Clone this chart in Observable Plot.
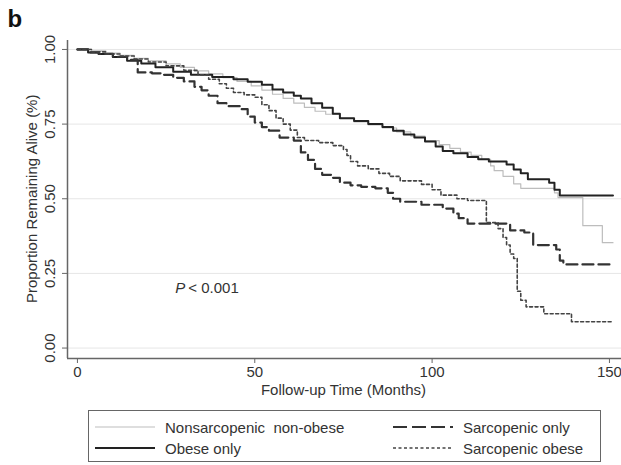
<!DOCTYPE html>
<html>
<head>
<meta charset="utf-8">
<script src="https://cdn.jsdelivr.net/npm/d3@7"></script>
<script src="https://cdn.jsdelivr.net/npm/@observablehq/plot@0.6"></script>
<style>
  html, body { margin: 0; padding: 0; background: #fff; }
  #wrap { position: relative; width: 621px; height: 465px; font-family: "Liberation Sans", Arial, Helvetica, sans-serif; color: #333; }
  #legend { position: absolute; left: 88px; top: 410px; width: 513px; height: 52px; border: 1px solid #666; box-sizing: border-box; font-size: 15px; }
  .item { position: absolute; display: flex; align-items: center; height: 20px; }
  .item svg { margin-right: 10px; }
</style>
</head>
<body>
<div id="wrap"></div>
<script>
// Tick values
const xTicks = [0, 50, 100, 150];
const yTicks = [0, 0.25, 0.5, 0.75, 1.0];

// Series: [month, proportion alive]
const nonsarcNonobese = [[0,1.0],[4,0.995],[8,0.988],[12,0.98],[16,0.97],[20,0.962],[25,0.952],[29,0.94],[33,0.928],[37,0.918],[41,0.906],[45,0.893],[49,0.878],[52,0.864],[55,0.85],[58,0.836],[61,0.82],[64,0.806],[67,0.793],[70,0.783],[74,0.769],[78,0.757],[82,0.747],[86,0.737],[90,0.724],[94,0.71],[98,0.695],[102,0.681],[105,0.669],[108,0.656],[111,0.645],[114,0.632],[116.5,0.61],[117.5,0.594],[120,0.575],[123,0.55],[125,0.535],[134.5,0.52],[135.5,0.504],[142.5,0.41],[148,0.353],[151,0.353]];
const obeseOnly = [[0,1.0],[3,0.99],[6,0.985],[10,0.975],[14,0.962],[18,0.953],[22,0.94],[27,0.925],[32,0.915],[38,0.908],[44,0.9],[48,0.892],[52,0.882],[55,0.866],[58,0.856],[61,0.845],[63,0.836],[66,0.82],[69,0.805],[72,0.785],[74,0.77],[78,0.76],[82,0.75],[86,0.74],[89,0.728],[92,0.715],[95,0.705],[98,0.692],[101,0.675],[103,0.66],[106,0.652],[110,0.64],[113,0.632],[116,0.625],[121,0.615],[123,0.598],[125,0.585],[127,0.565],[133,0.554],[134.5,0.53],[136,0.511],[151,0.511]];
const sarcopenicOnly = [[0,1.0],[3,0.99],[6,0.985],[10,0.975],[14,0.965],[17,0.923],[21,0.92],[24,0.915],[27,0.905],[30,0.893],[33,0.875],[35,0.863],[37,0.845],[39.5,0.82],[42,0.81],[46,0.8],[48,0.775],[50,0.755],[52,0.74],[54,0.728],[57,0.705],[61,0.695],[63,0.655],[65,0.63],[67,0.6],[69,0.58],[72,0.57],[74,0.554],[77,0.545],[80,0.54],[84,0.535],[87.5,0.52],[89,0.5],[91,0.49],[97,0.48],[103,0.467],[106,0.45],[107.5,0.435],[110,0.417],[119.5,0.417],[122,0.394],[126,0.387],[128.5,0.345],[135,0.33],[136,0.293],[137,0.28],[151,0.28]];
const sarcopenicObese = [[0,1.0],[4,0.992],[8,0.985],[12,0.978],[16,0.968],[20,0.958],[25,0.945],[30,0.93],[34,0.915],[37,0.9],[40,0.885],[42,0.87],[44,0.856],[47,0.848],[50,0.84],[52,0.815],[54,0.795],[56,0.77],[58,0.75],[60,0.73],[62,0.705],[64,0.695],[68,0.688],[72,0.678],[75,0.665],[76,0.645],[77,0.625],[79,0.61],[82,0.6],[85,0.585],[88,0.575],[91,0.56],[97,0.548],[100,0.53],[102.5,0.512],[107,0.5],[110,0.494],[115.3,0.42],[118.6,0.4],[120,0.37],[121,0.345],[122,0.315],[123,0.3],[124,0.19],[125,0.16],[126.5,0.138],[131.5,0.115],[139.3,0.088],[151,0.088]];

const seriesNames = ["Nonsarcopenic  non-obese", "Obese only", "Sarcopenic only", "Sarcopenic obese"];
const seriesData = [nonsarcNonobese, obeseOnly, sarcopenicOnly, sarcopenicObese];
const seriesStyle = [
  {stroke: "#bdbdbd", strokeWidth: 1.2, dash: null},
  {stroke: "#222", strokeWidth: 2, dash: null},
  {stroke: "#333", strokeWidth: 2.2, dash: "11,5"},
  {stroke: "#444", strokeWidth: 1.6, dash: "3,2.5"}
];
const xLabel = "Follow-up Time (Months)";
const yLabel = "Proportion Remaining Alive (%)";
const panelLabel = "b";
const pValue = {x: 27.6, y: 0.2, p: "P", rest: "< 0.001"};

const xDomain = [-2.8, 153.4];
const yDomain = [-0.035, 1.03];

const lineMarks = seriesData.map((s, i) => Plot.line(s, {
  x: d => d[0], y: d => d[1], curve: "step-after",
  stroke: seriesStyle[i].stroke, strokeWidth: seriesStyle[i].strokeWidth,
  strokeDasharray: seriesStyle[i].dash
}));

const chart = Plot.plot({
  width: 621, height: 465,
  marginLeft: 67, marginRight: 0, marginTop: 40, marginBottom: 107,
  style: {fontFamily: "Liberation Sans, Arial, Helvetica, sans-serif", fontSize: "15px", color: "#333", background: "#fff"},
  x: {domain: xDomain},
  y: {domain: yDomain},
  marks: [
    Plot.gridY(yTicks, {stroke: "#e6e6e6", strokeOpacity: 1, strokeWidth: 1}),
    Plot.ruleX([xDomain[0]], {stroke: "#666", strokeWidth: 1.5}),
    Plot.ruleY([yDomain[0]], {stroke: "#666", strokeWidth: 1.5}),
    Plot.axisX(xTicks, {tickSize: 5, tickPadding: 3, stroke: "#666", fontSize: 15, label: null, tickFormat: d => d}),
    Plot.axisY(yTicks, {tickSize: 5, stroke: "#666", tickFormat: () => "", label: null}),
    Plot.text(yTicks, {y: d => d, text: d => d.toFixed(2), frameAnchor: "left", dx: -17, rotate: -90, textAnchor: "middle", lineAnchor: "middle", fontSize: 15, fill: "#333"}),
    Plot.text([yLabel], {y: 0.5, text: d => d, frameAnchor: "left", dx: -35, rotate: -90, textAnchor: "middle", lineAnchor: "middle", fontSize: 15, fill: "#333"}),
    Plot.text([xLabel], {x: 75, text: d => d, frameAnchor: "bottom", dy: 32, textAnchor: "middle", lineAnchor: "middle", fontSize: 15, fill: "#333"}),
    Plot.text([panelLabel], {text: d => d, frameAnchor: "top-left", dx: -60, dy: -14, textAnchor: "start", lineAnchor: "bottom", fontSize: 24, fontWeight: "bold", fill: "#111"}),
    Plot.text([pValue], {x: "x", y: "y", text: "p", textAnchor: "start", fontStyle: "italic", fontSize: 15, fill: "#333"}),
    Plot.text([pValue], {x: "x", y: "y", text: "rest", textAnchor: "start", dx: 13, fontSize: 15, fill: "#333"}),
    ...lineMarks
  ]
});

const wrap = document.getElementById("wrap");
wrap.appendChild(chart);

// Legend
const legend = document.createElement("div");
legend.id = "legend";
const pos = [[6, 6], [6, 27], [304, 6], [304, 27]];
const legendOrder = [0, 1, 2, 3];
legendOrder.forEach((i, k) => {
  const it = document.createElement("div");
  it.className = "item";
  it.style.left = pos[k][0] + "px";
  it.style.top = pos[k][1] + "px";
  const st = seriesStyle[i];
  it.innerHTML = `<svg width="60" height="6"><line x1="0" y1="3" x2="60" y2="3" stroke="${st.stroke}" stroke-width="${st.strokeWidth}" ${st.dash ? `stroke-dasharray="${i === 2 ? '14,5' : st.dash}"` : ""}/></svg><span>${seriesNames[i].replace(/  /g, "&nbsp; ")}</span>`;
  legend.appendChild(it);
});
wrap.appendChild(legend);
</script>
</body>
</html>
